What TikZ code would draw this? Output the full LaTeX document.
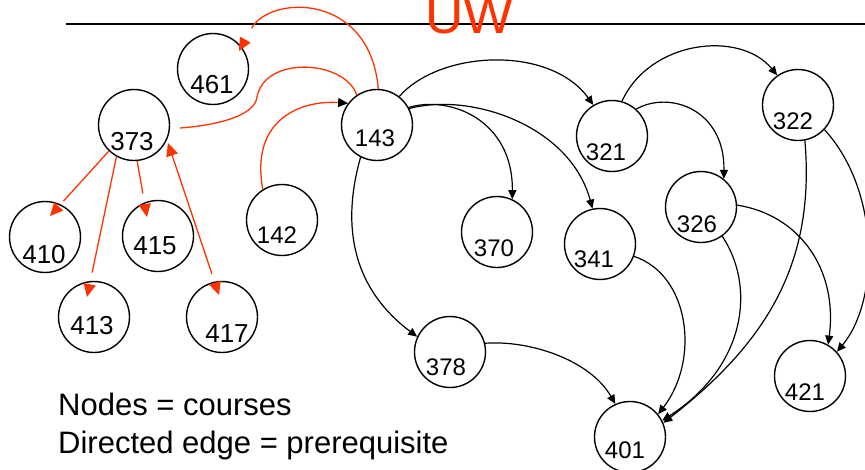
\documentclass[tikz,border=0pt]{standalone}
\usepackage{fontspec}
\setmainfont{Liberation Sans}
\usetikzlibrary{arrows.meta}
\definecolor{uwred}{RGB}{255,51,0}
\begin{document}
\begin{tikzpicture}[x=1pt,y=-1pt,
  course/.style={circle, draw=black, line width=1.4pt, fill=white,
    minimum size=71pt, inner sep=0pt},
  numL/.style={font=\fontsize{26}{26}\selectfont, inner sep=0pt},
  numR/.style={font=\fontsize{24}{24}\selectfont, inner sep=0pt},
  prereq/.style={draw=black, line width=1.2pt, -{Triangle[length=9pt,width=8pt]}},
  redline/.style={draw=uwred, line width=1.3pt},
  % red link whose line stops short of its (solid) arrow head
  redgap/.style={redline, shorten >=#1,
    postaction={draw=uwred, shorten >=0pt, line cap=butt,
      dash pattern=on 0pt off 2000pt, dash phase=1pt,
      -{Triangle[length=13pt,width=12pt]}}},
  legend/.style={anchor=base west, inner sep=0pt, font=\fontsize{31}{31}\selectfont}
]
\useasboundingbox (0,0) rectangle (865,469);
\clip (0,0) rectangle (865,469);

% header rule and title
\draw[line width=1.2pt] (66,24) -- (865,24);
\node[anchor=base west, inner sep=0pt, text=uwred,
      font=\fontsize{53}{53}\selectfont] (title) at (425,33) {UW};

% courses
\node[course, label={[numL,xshift=-1pt,yshift=-16pt]center:461}] (n461) at (213,69) {};
\node[course, label={[numL,xshift=-2pt,yshift=-17pt]center:373}] (n373) at (134,125) {};
\node[course, label={[numR,xshift=-2pt,yshift=-13pt]center:143}] (n143) at (377,125) {};
\node[course, label={[numL,xshift=-1pt,yshift=-18pt]center:410}] (n410) at (45,237) {};
\node[course, label={[numL,xshift=-3pt,yshift=-10pt]center:415}] (n415) at (158,236) {};
\node[course, label={[numL,xshift=-2pt,yshift=-9pt]center:413}] (n413) at (94,317) {};
\node[course, label={[numL,xshift=5pt,yshift=-17pt]center:417}] (n417) at (222,317) {};
\node[course, label={[numR,xshift=-5pt,yshift=-15pt]center:142}] (n142) at (282,220) {};
\node[course, label={[numR,xshift=-3pt,yshift=-16pt]center:370}] (n370) at (497,232) {};
\node[course, label={[numR,xshift=-6pt,yshift=-15pt]center:341}] (n341) at (600,244) {};
\node[course, label={[numR,xshift=-4pt,yshift=-17pt]center:326}] (n326) at (701,207) {};
\node[course, label={[numR,xshift=-4pt,yshift=-15pt]center:378}] (n378) at (450,352) {};
\node[course, label={[numR,xshift=-5pt,yshift=-16pt]center:421}] (n421) at (810,376) {};
\node[course, label={[numR,xshift=-5pt,yshift=-13pt]center:401}] (n401) at (630,437) {};
\node[course, label={[numR,xshift=-6pt,yshift=-16pt]center:321}] (n321) at (612,136) {};
\node[course, label={[numR,xshift=-5pt,yshift=-16pt]center:322}] (n322) at (798,105) {};

% arrow tips that sit just inside the target circles
\coordinate (t461) at (239,51);
\coordinate (t410) at (50,216);
\coordinate (t413) at (87,297);
\coordinate (t415) at (147,217);
\coordinate (t417) at (219,295);
\coordinate (t373) at (168,143);
\coordinate (r2end) at (180,128);

% red prerequisite links
\draw[redgap=26pt] (n143.88) .. controls (370,-8) and (270,-5) .. (t461);
\draw[redline] (n143.124) .. controls (345,60) and (265,55) .. (257,97)
      .. controls (255,115) and (220,125) .. (r2end);
\draw[redgap=20pt] (n373.226) -- (t410);
\draw[redgap=25pt] (n373.241) -- (t413);
\draw[redgap=24pt] (n373.275) -- (t415);
\draw[redgap=22pt, {Triangle[length=13pt,width=12pt]}-] (t373) -- (t417);
\draw[redline, -{Triangle[length=10pt,width=9pt,color=black]}]
      (n142.122) .. controls (250,120) and (300,100) .. (n143.143);

% black prerequisite links
\draw[prereq] (n143.52) .. controls (440,50) and (550,45) .. (n321.121);
\draw[prereq] (n143.29) .. controls (450,95) and (513,120) .. (n370.65);
\draw[prereq] (n143.27) .. controls (470,92) and (570,125) .. (n341.102);
\draw[prereq] (n143.243) .. controls (340,230) and (355,290) .. (n378.155);
\draw[prereq] (n321.74) .. controls (650,40) and (740,30) .. (n322.125);
\draw[prereq] (n321.48) .. controls (670,90) and (725,110) .. (n326.51);
\draw[prereq] (n322.281) .. controls (815,260) and (770,340) .. (n401.23);
\draw[prereq] (n322.317) .. controls (880,190) and (880,300) .. (n421.42);
\draw[prereq] (n326.3) .. controls (800,215) and (838,270) .. (n421.60);
\draw[prereq] (n326.306) .. controls (755,285) and (748,365) .. (n401.27);
\draw[prereq] (n341.340) .. controls (690,275) and (700,360) .. (n401.39);
\draw[prereq] (n378.14) .. controls (530,340) and (590,360) .. (n401.114);

% legend
\node[legend] (legend1) at (58,415) {Nodes = courses};
\node[legend] (legend2) at (58,453) {Directed edge = prerequisite};
\end{tikzpicture}
\end{document}
